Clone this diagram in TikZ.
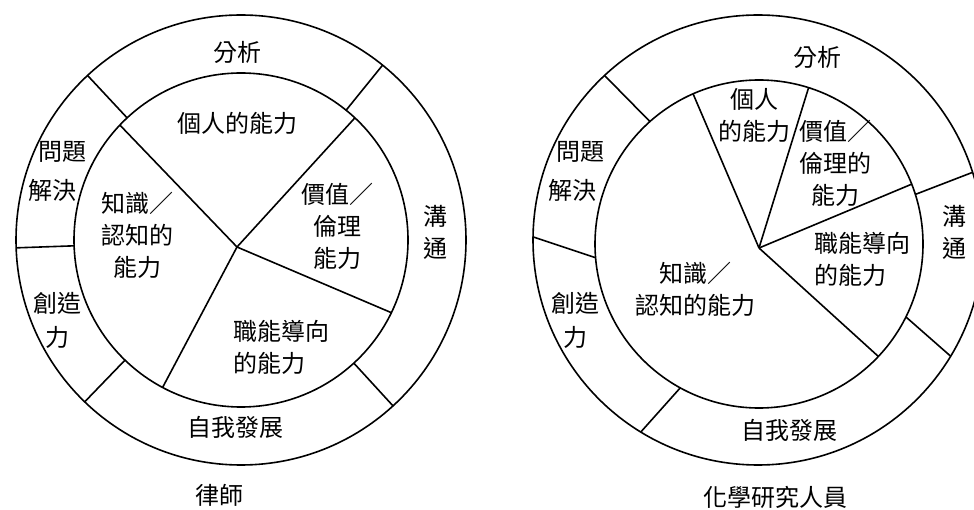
\documentclass[tikz,border=0pt]{standalone}
\usepackage{fontspec}
\setmainfont{Noto Sans CJK TC}
\begin{document}
\begin{tikzpicture}[x=1pt,y=1pt,line width=1.6pt,
  lbl/.style={font=\fontsize{24}{32}\selectfont, inner sep=0pt, align=center}]
\clip (0,0) rectangle (974,509);
\fill[white] (0,0) rectangle (974,509);
% ---------------- left: 律師
\coordinate (LC) at (241,269);
\coordinate (LP) at (237,262);
\draw (LC) circle (225);
\draw (LC) circle (167);
% ring spokes
\foreach \a in {133,51,182,226,312.5}
  \draw ([shift={(\a:167)}]LC) -- ([shift={(\a:225)}]LC);
% inner spokes
\foreach \a in {136.5,47,-25.8,242}
  \draw (LP) -- ([shift={(\a:167)}]LC);
% labels
\node[lbl] (l1) at (237,457) {分析};
\node[lbl] (l2) at (62,357) {問題};
\node[lbl] (l3) at (52,319) {解決};
\node[lbl] (l4) at (57,206) {創造};
\node[lbl] (l5) at (57,172) {力};
\node[lbl] (l6) at (235,82) {自我發展};
\node[lbl] (l7) at (435,276.5) {溝\\通};
\node[lbl] (l8) at (237,386) {個人的能力};
\node[lbl] (l9) at (137,274) {知識／\\認知的\\能力};
\node[lbl] (l10) at (337,283) {價值／\\倫理\\能力};
\node[lbl,align=left,anchor=west] (l11) at (233,162) {職能導向\\的能力};
\node[lbl] (l12) at (219,14) {律師};
% ---------------- right: 化學研究人員
\coordinate (RO) at (758,269);
\coordinate (RI) at (759,265);
\coordinate (RP) at (759,261);
\draw (RO) circle (225);
\draw (RI) circle (164);
% ring spokes (inner angle / outer angle)
\draw ([shift={(131.7:164)}]RI) -- ([shift={(133:225)}]RO);
\draw ([shift={(184.8:164)}]RI) -- ([shift={(179.2:225)}]RO);
\draw ([shift={(241.3:164)}]RI) -- ([shift={(238.6:225)}]RO);
\draw ([shift={(-26.4:164)}]RI) -- ([shift={(-31.1:225)}]RO);
\draw ([shift={(17.6:164)}]RI) -- ([shift={(17.5:225)}]RO);
% inner spokes
\foreach \a in {113.7,72.4,21.4,-43.3}
  \draw (RP) -- ([shift={(\a:164)}]RI);
% labels
\node[lbl] (r1) at (817,452) {分析};
\node[lbl] (r2) at (580,357) {問題};
\node[lbl] (r3) at (572,319) {解決};
\node[lbl] (r4) at (575,206) {創造};
\node[lbl] (r5) at (575,172) {力};
\node[lbl] (r6) at (789,79) {自我發展};
\node[lbl] (r7) at (954,276.5) {溝\\通};
\node[lbl] (r8) at (754,394) {個人\\的能力};
\node[lbl] (r9) at (835,345.5) {價值／\\倫理的\\能力};
\node[lbl,align=left,anchor=west] (r10) at (814,250) {職能導向\\的能力};
\node[lbl] (r11) at (695,220) {知識／\\認知的能力};
\node[lbl] (r12) at (775,12) {化學研究人員};
\end{tikzpicture}
\end{document}
